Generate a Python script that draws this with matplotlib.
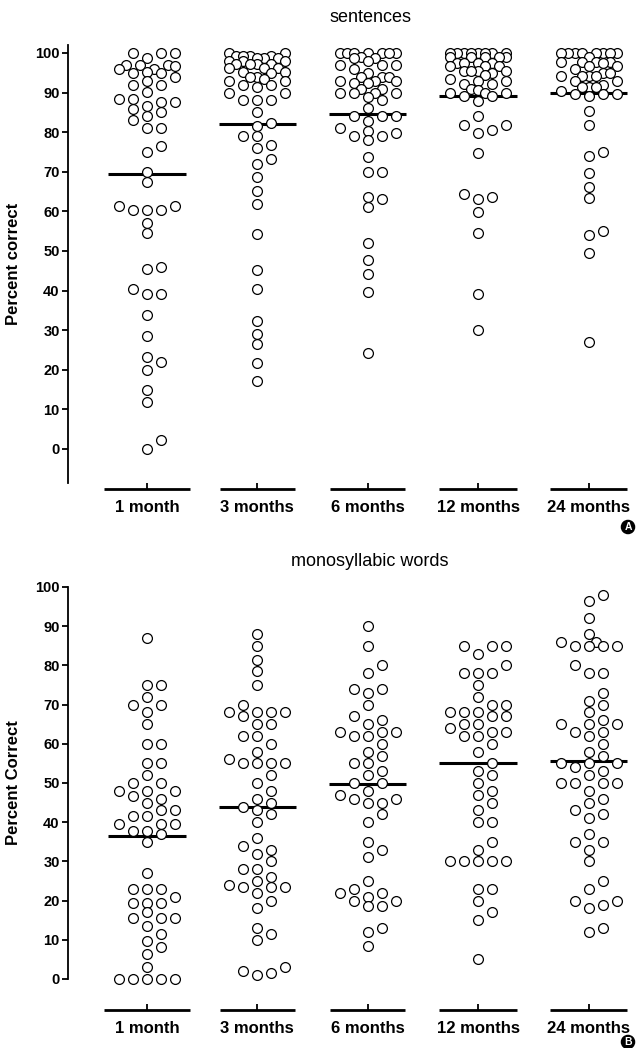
import numpy as np
import matplotlib
matplotlib.use('Agg')
import matplotlib.pyplot as plt

plt.rcParams['font.family'] = 'Liberation Sans'

groups = ['1 month', '3 months', '6 months', '12 months', '24 months']

# sentences (panel A)
sent_1m = [100, 100, 100, 98.6, 97, 97, 97, 96.6, 95.9, 95.9, 95.3, 94.9, 94.9, 94, 93, 92, 92,
           90.1, 88.4, 88.4, 87.5, 87.5, 86.7, 85.9, 85, 84, 83, 81, 81, 76.6, 74.9, 69.9, 67.5,
           61.4, 61.4, 60.4, 60.4, 60.4, 57.1, 54.5, 46, 45.4, 40.3, 39.1, 39.1, 33.7, 28.6,
           23.3, 21.9, 19.9, 14.9, 11.8, 2.2, 0]
sent_3m = [100, 100, 99.2, 99.2, 99.2, 99.2, 98.6, 98.6, 98.6, 98, 98, 98, 97.2, 97.2, 97.2, 97.2,
           96.1, 96.1, 96.1, 95.3, 95.3, 95, 94, 94, 93.4, 92.8, 92.8, 91.9, 91.9, 91.5, 90, 90,
           88, 88, 88, 85.2, 82.4, 81.6, 78.9, 78.9, 76.8, 75.9, 73.2, 72, 68.6, 65.2, 61.8,
           54.3, 45.2, 40.3, 32.2, 29, 26.5, 21.6, 17.2]
sent_6m = [100, 100, 100, 100, 100, 100, 100, 99, 98.6, 98.6, 98, 97, 97, 97, 95.9, 94.9, 94, 94,
           94, 93, 93, 93, 92.3, 92.3, 91, 91, 90, 90, 90, 90, 88.8, 88, 86, 84.1, 84.1, 84.1,
           82.7, 81, 80.4, 79.7, 78.9, 78.9, 78, 73.6, 69.9, 69.9, 63.6, 63.1, 61, 52.1, 47.7,
           44.1, 39.7, 24.2]
sent_12m = [100, 100, 100, 100, 100, 100, 100, 100, 99, 99, 99, 99, 99, 97.4, 97.4, 97.4, 97.4,
            96.7, 96.7, 96.7, 95.5, 95.5, 95.5, 95.5, 95, 94.3, 93.4, 93, 93, 92.2, 92.2, 91,
            90.6, 90, 90, 90, 89, 89, 87.9, 84, 81.8, 81.8, 80.6, 79.9, 74.7, 64.4, 63.6, 63.1,
            59.9, 54.6, 39.1, 30]
sent_24m = [100, 100, 100, 100, 100, 100, 100, 100, 99, 97.8, 97.8, 97.8, 97.8, 97.4, 96.7, 96.7,
            96, 94.9, 94.9, 94.2, 94.2, 94.2, 94.2, 93, 93, 92, 91.4, 91.4, 91.4, 90.5, 89.6,
            89.6, 89.6, 89, 85.4, 81.8, 75.1, 74, 69.6, 66.1, 63.3, 55, 54, 49.4, 27.1]
sent_means = [69.5, 82.0, 84.5, 89.0, 90.0]

# monosyllabic words (panel B)
mono_1m = [87, 75, 75, 72, 70, 70, 68, 65, 60, 60, 55, 55, 52, 50, 50, 48, 48, 48, 46.6, 45.8,
           45, 43, 43, 41.5, 41.5, 39.6, 39.6, 39.6, 37.8, 37.8, 37, 35, 27, 23, 23, 23, 21,
           19.5, 19.5, 19.5, 17, 15.5, 15.5, 15.5, 13.4, 11.4, 9.8, 8.1, 6.5, 3, 0, 0, 0, 0, 0]
mono_3m = [88, 85, 81.5, 78.5, 75, 70, 68, 68, 68, 68, 67, 65, 65, 62, 62, 60, 58, 56, 55, 55,
           55, 55, 52, 50, 48, 46, 45, 44, 43, 42, 40, 36, 34, 33, 32, 30, 28, 28, 26, 25, 24,
           23.5, 23.5, 23.5, 22, 20, 18, 13, 11.5, 10, 3, 2, 1.5, 1]
mono_6m = [90, 85, 80, 78, 74, 74, 73, 70, 67, 66, 65, 63, 63, 63, 62, 62, 60, 58, 57, 55, 55,
           53, 52, 50, 50, 48, 47, 46, 46, 45, 45, 42, 40, 35, 33, 31, 25, 23, 22, 22, 21, 20,
           20, 18.5, 18.5, 13, 12, 8.5]
mono_12m = [85, 85, 85, 83, 80, 78, 78, 78, 75, 72, 70, 70, 68, 68, 68, 67, 67, 65, 65, 64, 63,
            63, 62, 62, 60, 58, 55, 53, 52, 50, 48, 47, 45, 43, 40, 40, 35, 33, 30, 30, 30, 30,
            30, 23, 23, 20, 17, 15, 5]
mono_24m = [98, 96.5, 92, 88, 86, 86, 85, 85, 85, 85, 80, 78, 78, 73, 71, 70, 68, 66, 65, 65,
            65, 63, 63, 62, 60, 58, 57, 55, 55, 55, 54, 53, 52, 50, 50, 50, 50, 48, 46, 45, 43,
            42, 41, 37, 35, 35, 33, 30, 25, 23, 20, 20, 19, 18, 13, 12]
mono_means = [36.5, 44.0, 49.7, 55.2, 55.5]

sent_data = [sent_1m, sent_3m, sent_6m, sent_12m, sent_24m]
mono_data = [mono_1m, mono_3m, mono_6m, mono_12m, mono_24m]

W, H = 636, 1048
fig = plt.figure(figsize=(W / 100, H / 100), dpi=100)

XL = (-0.715, 4.43)


def make_axes(top, bottom, ylim):
    ax = fig.add_axes([68 / W, 1 - bottom / H, (W - 68) / W, (bottom - top) / H])
    ax.set_xlim(*XL)
    ax.set_ylim(*ylim)
    return ax


def swarm(vals, ppy, ppx, diam=9.0, step=14.0):
    # simple column scatter: put each point in the first column where it does not collide
    vals = np.asarray(vals, float)
    ys = vals * ppy
    order = np.argsort(vals, kind='stable')
    cols = {}
    off = np.zeros(len(vals))
    first = [0, 1, -1, 2, -2]
    extra = [0.5, -0.5, 1.5, -1.5]
    for i in order:
        chosen = None
        for k in first + extra:
            if all(abs(ys[i] - y) >= diam for y in cols.get(k, [])):
                chosen = k
                break
        if chosen is None:
            chosen = max(first + extra,
                         key=lambda k: min(abs(ys[i] - y) for y in cols.get(k, [1e9])))
        cols.setdefault(chosen, []).append(ys[i])
        off[i] = chosen * step / ppx
    return off


def draw_panel(ax, data, means, seg_y, ylabel):
    bbox = ax.get_position()
    hpx = bbox.height * H
    wpx = bbox.width * W
    y0, y1 = ax.get_ylim()
    ppy = hpx / (y1 - y0)
    ppx = wpx / (XL[1] - XL[0])
    for i, vals in enumerate(data):
        off = swarm(vals, ppy, ppx)
        ax.scatter(i + off, vals, s=50, facecolors='white', edgecolors='black',
                   linewidths=0.9, zorder=3, clip_on=False)
        ax.plot([i - 0.35, i + 0.35], [means[i], means[i]], color='black', lw=2.2,
                zorder=2, solid_capstyle='butt')
    # broken x axis: one short segment per group
    half = [0.39, 0.34, 0.34, 0.35, 0.35]
    for i in range(len(data)):
        ax.plot([i - half[i], i + half[i]], [seg_y, seg_y], color='black', lw=2.0,
                clip_on=False, solid_capstyle='butt')
    ax.spines['bottom'].set_position(('data', seg_y))
    ax.spines['bottom'].set_visible(False)
    ax.spines['top'].set_visible(False)
    ax.spines['right'].set_visible(False)
    ax.spines['left'].set_linewidth(1.3)
    ax.set_xticks(range(len(groups)))
    ax.set_xticklabels(groups)
    ax.tick_params(axis='x', direction='in', length=4, width=1.3, pad=8)
    ax.set_yticks(range(0, 101, 10))
    ax.tick_params(axis='y', direction='out', length=4, width=1.3, labelsize=10.5, pad=2)
    for lab in ax.get_xticklabels():
        lab.set_fontweight('bold')
        lab.set_fontsize(12)
    for lab in ax.get_yticklabels():
        lab.set_fontweight('bold')
    ax.set_ylabel(ylabel, fontsize=12, fontweight='bold', labelpad=10)


ax1 = make_axes(45, 483, (-8.6, 102.0))
draw_panel(ax1, sent_data, sent_means, -10.1, 'Percent correct')

ax2 = make_axes(587, 979, (0, 100))
draw_panel(ax2, mono_data, mono_means, -7.9, 'Percent Correct')

fig.text(370 / W, 1 - 18 / H, 'sentences', ha='center', va='center', fontsize=13)
fig.text(370 / W, 1 - 562 / H, 'monosyllabic words', ha='center', va='center', fontsize=13)

for lbl, ypx in [('A', 527), ('B', 1042)]:
    fig.text(628 / W, 1 - ypx / H, lbl, ha='center', va='center', fontsize=7.5,
             fontweight='bold', color='white',
             bbox=dict(boxstyle='circle,pad=0.15', fc='black', ec='black'))

fig.savefig('out.png', dpi=100)
